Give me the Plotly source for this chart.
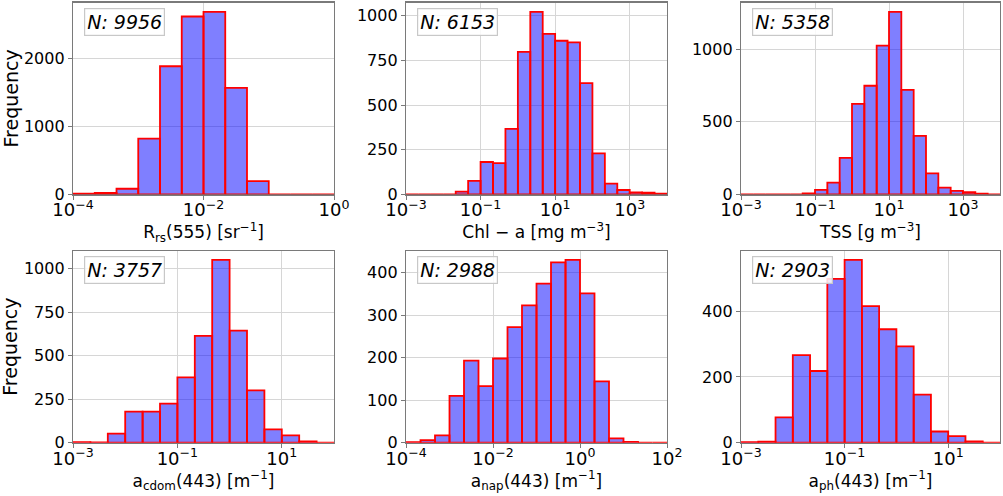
import numpy as np
import plotly.graph_objects as go

# ---------------- data ----------------
titles = ["R<sub>rs</sub>(555) [sr<sup>\u22121</sup>]",
          "Chl \u2212 a [mg m<sup>\u22123</sup>]",
          "TSS [g m<sup>\u22123</sup>]",
          "a<sub>cdom</sub>(443) [m<sup>\u22121</sup>]",
          "a<sub>nap</sub>(443) [m<sup>\u22121</sup>]",
          "a<sub>ph</sub>(443) [m<sup>\u22121</sup>]"]
n_labels = ["N: 9956", "N: 6153", "N: 5358", "N: 3757", "N: 2988", "N: 2903"]
y_label = "Frequency"

# log10 of first / last bin edge, 3 bins per decade
bin_lo = [-4, -3, -3, -3, -4, -3]
bin_hi = [0, 4, 4, 2, 2, 2]

counts_rrs = [10, 20, 82, 823, 1891, 2626, 2695, 1573, 196, 0, 0, 0]
counts_chl = [0, 0, 0, 0, 15, 75, 181, 175, 366, 798, 1022, 899, 860, 851, 623,
              229, 60, 24, 11, 9, 3]
counts_tss = [0, 0, 0, 0, 0, 7, 30, 80, 251, 623, 747, 1023, 1256, 719, 402,
              144, 46, 23, 14, 4, 0]
counts_cdom = [3, 2, 52, 178, 178, 224, 375, 613, 1050, 644, 301, 77, 42, 8, 0]
counts_nap = [1, 6, 17, 110, 193, 133, 198, 272, 323, 374, 424, 430, 351, 144,
              10, 2, 0, 0]
counts_ph = [2, 3, 77, 266, 218, 498, 556, 415, 345, 293, 146, 34, 20, 4, 0]
all_counts = [counts_rrs, counts_chl, counts_tss, counts_cdom, counts_nap, counts_ph]

x_tickvals = [[1e-4, 1e-2, 1e0],
              [1e-3, 1e-1, 1e1, 1e3],
              [1e-3, 1e-1, 1e1, 1e3],
              [1e-3, 1e-1, 1e1],
              [1e-4, 1e-2, 1e0, 1e2],
              [1e-3, 1e-1, 1e1]]
x_ticktext = [["10<sup>\u22124</sup>", "10<sup>\u22122</sup>", "10<sup>0</sup>"],
              ["10<sup>\u22123</sup>", "10<sup>\u22121</sup>", "10<sup>1</sup>", "10<sup>3</sup>"],
              ["10<sup>\u22123</sup>", "10<sup>\u22121</sup>", "10<sup>1</sup>", "10<sup>3</sup>"],
              ["10<sup>\u22123</sup>", "10<sup>\u22121</sup>", "10<sup>1</sup>"],
              ["10<sup>\u22124</sup>", "10<sup>\u22122</sup>", "10<sup>0</sup>", "10<sup>2</sup>"],
              ["10<sup>\u22123</sup>", "10<sup>\u22121</sup>", "10<sup>1</sup>"]]
y_dticks = [1000, 250, 500, 250, 100, 200]

# ---------------- layout geometry (pixels) ----------------
W, H = 1003, 496
col_px = [(73, 334), (406, 667), (741, 1000)]
row_px = [(2.7, 194.3), (250.7, 442.7)]

FONT = "DejaVu Sans"
fig = go.Figure()

for k in range(6):
    r, c = divmod(k, 3)
    counts = all_counts[k]
    nb = len(counts)
    edges = 10 ** (bin_lo[k] + np.arange(nb + 1) / 3.0)
    xs, ys = [], []
    for i in range(nb):
        e0, e1, h = edges[i], edges[i + 1], counts[i]
        xs += [e0, e0, e1, e1, e0, None]
        ys += [0, h, h, 0, 0, None]
    ax = "" if k == 0 else str(k + 1)
    fig.add_trace(go.Scatter(
        x=xs, y=ys, mode="lines", fill="toself",
        fillcolor="rgba(0,0,255,0.5)",
        line=dict(color="#ff0000", width=1.8),
        xaxis="x" + ax, yaxis="y" + ax, showlegend=False, hoverinfo="skip"))

    x0, x1 = col_px[c]
    y0, y1 = row_px[r]
    ymax = 1.05 * max(counts)
    common = dict(showline=True, mirror=True, linecolor="#7a7a7a", linewidth=1.2,
                  showgrid=True, gridcolor="#d6d6d6", gridwidth=1,
                  ticks="outside", ticklen=4, tickcolor="#7a7a7a", zeroline=False,
                  automargin=False, layer="below traces")
    fig.update_layout(**{
        "xaxis" + ax: dict(
            common, type="log", domain=[x0 / W, x1 / W],
            anchor="y" + ax,
            range=[bin_lo[k], bin_hi[k]],
            tickmode="array", tickvals=x_tickvals[k], ticktext=x_ticktext[k],
            tickfont=dict(family=FONT, size=18, color="black"),
            ticklabelstandoff=-5,
            title=dict(text=titles[k], standoff=4,
                       font=dict(family=FONT, size=17, color="black"))),
        "yaxis" + ax: dict(
            common, domain=[1 - y1 / H, 1 - y0 / H], anchor="x" + ax,
            range=[0, ymax], dtick=y_dticks[k], tick0=0,
            tickfont=dict(family=FONT, size=16, color="black")),
    })
    fig.add_annotation(
        xref="x" + ax + " domain", yref="y" + ax + " domain",
        x=0.042, y=0.972, xanchor="left", yanchor="top",
        text="<i>" + n_labels[k] + "</i>", showarrow=False,
        font=dict(family=FONT, size=19, color="black"),
        bgcolor="rgba(255,255,255,0.85)", bordercolor="#c8c8c8",
        borderwidth=1.2, borderpad=2)
    if c == 0:
        fig.add_annotation(
            xref="paper", yref="y" + ax + " domain",
            x=10 / W, y=0.5, xanchor="center", yanchor="middle",
            text=y_label, textangle=-90, showarrow=False,
            font=dict(family=FONT, size=19, color="black"))

fig.update_layout(width=W, height=H, autosize=False, template="none",
                  margin=dict(l=0, r=0, t=0, b=0),
                  paper_bgcolor="white", plot_bgcolor="white",
                  font=dict(family=FONT, color="black"))

fig.write_html("out.html",
               config={"displayModeBar": False, "staticPlot": True},
               post_script="document.body.style.margin='0px';"
                           "document.body.style.overflow='hidden';")
